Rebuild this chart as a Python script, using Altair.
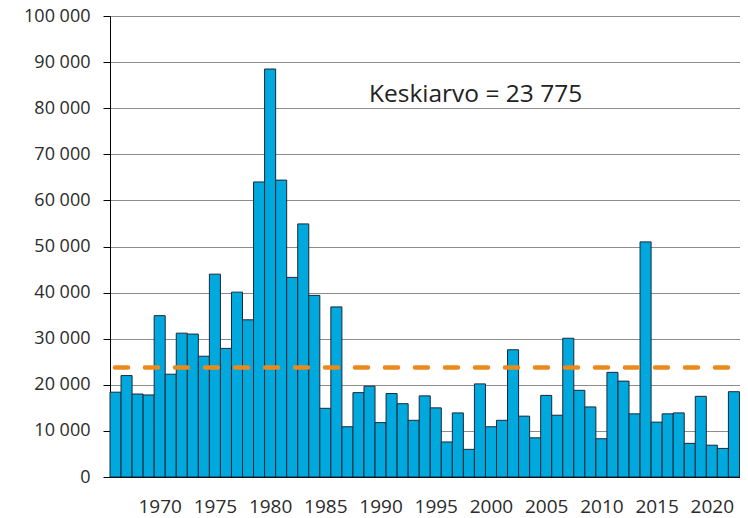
import altair as alt
import pandas as pd

years = list(range(1966, 2023))
values = [18400, 22000, 18000, 17800, 35000, 22300, 31200, 31000, 26200, 44000,
          27900, 40100, 34100, 64000, 88500, 64400, 43300, 54900, 39400, 14900,
          36900, 10900, 18300, 19700, 11800, 18100, 15900, 12300, 17600, 15000,
          7600, 13900, 6000, 20200, 10900, 12300, 27600, 13200, 8500, 17700,
          13400, 30100, 18800, 15200, 8300, 22700, 20800, 13700, 51000, 11900,
          13700, 13900, 7300, 17500, 6900, 6200, 18500]
mean_value = 23775
mean_label = "Keskiarvo = 23 775"
x_tick_labels = [1970, 1975, 1980, 1985, 1990, 1995, 2000, 2005, 2010, 2015, 2020]
y_ticks = [0, 10000, 20000, 30000, 40000, 50000, 60000, 70000, 80000, 90000, 100000]

df = pd.DataFrame({"year": years, "value": values})
df["x0"] = df["year"] - 0.5
df["x1"] = df["year"] + 0.5
df["zero"] = 0

FONT = "Open Sans"
xdom = [1965.5, 2022.55]
xscale = alt.Scale(domain=xdom, nice=False, zero=False)
yscale = alt.Scale(domain=[0, 100000], nice=False)

bars = alt.Chart(df).mark_bar(
    fill="#00A9DD", stroke="#1B2838", strokeWidth=1
).encode(
    x=alt.X("x0:Q", scale=xscale, axis=alt.Axis(
        values=x_tick_labels, format="d", title=None, grid=False, ticks=False,
        domainColor="#000000", labelFontSize=19, labelColor="#2B2B2B",
        labelPadding=20, labelFont=FONT, labelFlush=False)),
    x2="x1:Q",
    y=alt.Y("value:Q", scale=yscale, axis=alt.Axis(
        values=y_ticks, title=None, grid=True, gridColor="#8C8C8C", gridWidth=1,
        tickColor="#000000", tickSize=7, domainColor="#000000",
        labelExpr="replace(format(datum.value, ','), ',', ' ')",
        labelFontSize=18, labelColor="#2B2B2B", labelPadding=13, labelFont=FONT)),
    y2="zero:Q",
)

mean_df = pd.DataFrame({"x0": [xdom[0]], "x1": [xdom[1]], "y": [mean_value]})
mean_rule = alt.Chart(mean_df).mark_rule(
    color="#EB8A1C", strokeWidth=4.5, strokeDash=[13, 17], strokeCap="round",
    strokeDashOffset=-5
).encode(
    x=alt.X("x0:Q", scale=xscale), x2="x1:Q", y=alt.Y("y:Q", scale=yscale)
)

text_df = pd.DataFrame({"x": [1988.95], "y": [81350], "t": [mean_label]})
label = alt.Chart(text_df).mark_text(
    align="left", baseline="alphabetic", fontSize=24.5, font=FONT, color="#222222"
).encode(
    x=alt.X("x:Q", scale=xscale), y=alt.Y("y:Q", scale=yscale), text="t:N"
)

chart = alt.layer(bars, mean_rule, label).properties(
    width=630, height=461,
    autosize=alt.AutoSizeParams(type="none"),
    padding={"left": 102, "top": 8, "right": 0, "bottom": 43},
).configure_view(stroke=None).configure(background="white")

chart.save("out.html", embed_options={"renderer": "svg", "actions": False})
